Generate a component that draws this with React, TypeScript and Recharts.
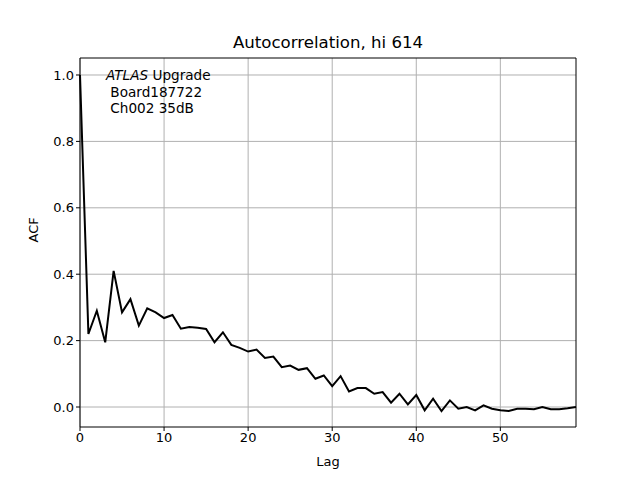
import { CartesianGrid, Line, LineChart, ReferenceLine, XAxis, YAxis } from "recharts";

const FONT = "DejaVu Sans, sans-serif";
const GRID = "#b0b0b0";

const lags = Array.from({ length: 60 }, (_, i) => i);
const acf = [
  1.0, 0.22, 0.29, 0.195, 0.41, 0.285, 0.325, 0.245, 0.297, 0.285,
  0.268, 0.277, 0.236, 0.241, 0.239, 0.235, 0.195, 0.225, 0.187, 0.178,
  0.167, 0.173, 0.148, 0.152, 0.12, 0.125, 0.112, 0.117, 0.085, 0.095,
  0.063, 0.093, 0.047, 0.057, 0.057, 0.04, 0.045, 0.013, 0.04, 0.008,
  0.036, -0.01, 0.025, -0.012, 0.02, -0.005, 0.0, -0.01, 0.005, -0.005,
  -0.01, -0.012, -0.005, -0.005, -0.007, 0.0, -0.007, -0.007, -0.004, 0.0,
];
const xTicks = [0, 10, 20, 30, 40, 50];
const yTicks = [0, 0.2, 0.4, 0.6, 0.8, 1.0];
const xDomain = [0, 59];
const yDomain = [-0.0602, 1.0512];

const rows = lags.map((lag, i) => ({ lag, acf: acf[i] }));

export default function App() {
  return (
    <div style={{ position: "absolute", left: 0, top: 0, width: 640, height: 480, background: "#fff", fontFamily: FONT }}>
      <div style={{ position: "absolute", left: 0, top: 33, width: 656, textAlign: "center", fontSize: 16.6, color: "#000" }}>
        Autocorrelation, hi 614
      </div>
      <LineChart width={640} height={480} data={rows} margin={{ top: 58, right: 64, left: 30, bottom: 0 }}>
        <CartesianGrid xAxisId="b" yAxisId="l" stroke={GRID} strokeWidth={1} horizontalValues={yTicks} verticalValues={xTicks} />
        <XAxis
          xAxisId="b"
          dataKey="lag"
          type="number"
          domain={xDomain}
          ticks={xTicks}
          height={53}
          tickSize={4}
          tickLine={{ stroke: "#000" }}
          axisLine={{ stroke: "#000" }}
          tick={{ fill: "#000", fontSize: 13, fontFamily: FONT }}
          label={{ value: "Lag", position: "insideBottom", offset: 14, fill: "#000", fontSize: 13, fontFamily: FONT }}
        />
        <YAxis
          yAxisId="l"
          type="number"
          domain={yDomain}
          ticks={yTicks}
          width={50}
          tickSize={4}
          tickLine={{ stroke: "#000" }}
          axisLine={{ stroke: "#000" }}
          tickFormatter={(v) => Number(v).toFixed(1)}
          tick={{ fill: "#000", fontSize: 13, fontFamily: FONT }}
          label={{ value: "ACF", angle: -90, position: "insideLeft", offset: 0, dx: 3, fill: "#000", fontSize: 13, fontFamily: FONT }}
        />
        <ReferenceLine xAxisId="b" yAxisId="l" y={yDomain[1]} stroke="#000" strokeWidth={1} />
        <ReferenceLine xAxisId="b" yAxisId="l" x={xDomain[1]} stroke="#000" strokeWidth={1} />
        <Line xAxisId="b" yAxisId="l" type="linear" dataKey="acf" stroke="#000" strokeWidth={2} dot={false} isAnimationActive={false} />
      </LineChart>
      <div style={{ position: "absolute", left: 106, top: 67, fontSize: 13.6, lineHeight: "16.5px", color: "#000", whiteSpace: "pre" }}>
        <div><i>ATLAS</i> Upgrade</div>
        <div> Board187722</div>
        <div> Ch002 35dB</div>
      </div>
    </div>
  );
}
